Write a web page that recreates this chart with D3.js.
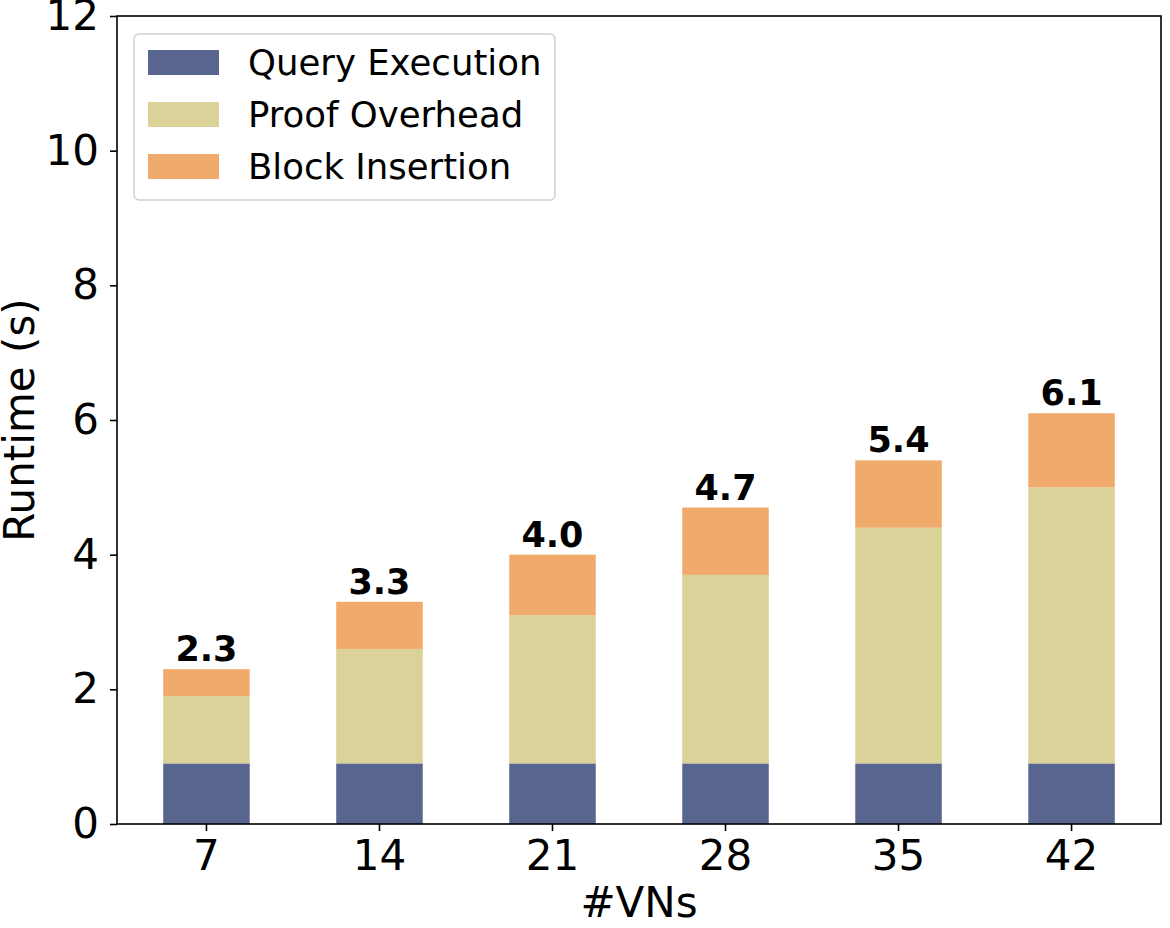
<!DOCTYPE html>
<html><head><meta charset="utf-8">
<script src="https://cdn.jsdelivr.net/npm/d3@7"></script>
<style>body{margin:0;background:#fff}svg{display:block}text{font-family:"DejaVu Sans",sans-serif}</style>
</head><body>
<svg id="c" width="1170" height="928"></svg>
<script>
const categories = ["7","14","21","28","35","42"];
const queryExecution = [0.9,0.9,0.9,0.9,0.9,0.9];
const proofOverhead = [1.0,1.7,2.2,2.8,3.5,4.1];
const blockInsertion = [0.4,0.7,0.9,1.0,1.0,1.1];
const totals = ["2.3","3.3","4.0","4.7","5.4","6.1"];
const seriesNames = ["Query Execution","Proof Overhead","Block Insertion"];
const colors = ["#58658f","#dbd299","#f0aa6b"];
const yTicks = [0,2,4,6,8,10,12];

const svg = d3.select("#c");
const L=117,R=1161,T=16,B=824;
const x = d3.scaleBand().domain(categories).range([L,R]).paddingInner(0.5).paddingOuter(0.267);
const y = d3.scaleLinear().domain([0,12]).range([B,T]);

const series = [queryExecution, proofOverhead, blockInsertion];
const stackData = categories.map((c,i)=>({cat:c, s0:series[0][i], s1:series[1][i], s2:series[2][i]}));
const stacked = d3.stack().keys(["s0","s1","s2"])(stackData);

svg.append("g").selectAll("g").data(stacked).join("g")
  .attr("fill",(d,i)=>colors[i])
  .selectAll("rect").data(d=>d).join("rect")
  .attr("x",d=>x(d.data.cat)).attr("width",x.bandwidth())
  .attr("y",d=>y(d[1])).attr("height",d=>y(d[0])-y(d[1]));

// value labels
svg.append("g").selectAll("text").data(stackData).join("text")
  .attr("x",d=>x(d.cat)+x.bandwidth()/2)
  .attr("y",d=>y(d.s0+d.s1+d.s2)-8)
  .attr("text-anchor","middle").attr("font-weight","bold").attr("font-size",35)
  .text((d,i)=>totals[i]);

// frame
svg.append("rect").attr("x",L).attr("y",T).attr("width",R-L).attr("height",B-T)
  .attr("fill","none").attr("stroke","#000").attr("stroke-width",1.6);

// axes
const xa = svg.append("g").attr("transform",`translate(0,${B})`)
  .call(d3.axisBottom(x).tickSize(7).tickPadding(9));
const ya = svg.append("g").attr("transform",`translate(${L},0)`)
  .call(d3.axisLeft(y).tickValues(yTicks).tickSize(7).tickPadding(11));
[xa,ya].forEach(a=>{
  a.select(".domain").remove();
  a.selectAll("line").attr("stroke","#000").attr("stroke-width",1.6);
  a.selectAll("text").attr("font-size",42).attr("fill","#000").style("font-family","DejaVu Sans");
});

svg.append("text").attr("x",(L+R)/2).attr("y",917).attr("text-anchor","middle")
  .attr("font-size",42).text("#VNs");
svg.append("text").attr("transform",`translate(34,${(T+B)/2}) rotate(-90)`)
  .attr("text-anchor","middle").attr("font-size",42).text("Runtime (s)");

// legend
const lg = svg.append("g");
lg.append("rect").attr("x",134).attr("y",34).attr("width",421).attr("height",166)
  .attr("rx",5).attr("fill","#fff").attr("fill-opacity",0.8).attr("stroke","#d0d0d0").attr("stroke-width",1.5);
seriesNames.forEach((n,i)=>{
  lg.append("rect").attr("x",148).attr("y",50+i*52).attr("width",71).attr("height",25).attr("fill",colors[i]);
  lg.append("text").attr("x",248).attr("y",75+i*52).attr("font-size",35.5).text(n);
});
</script>
</body></html>
